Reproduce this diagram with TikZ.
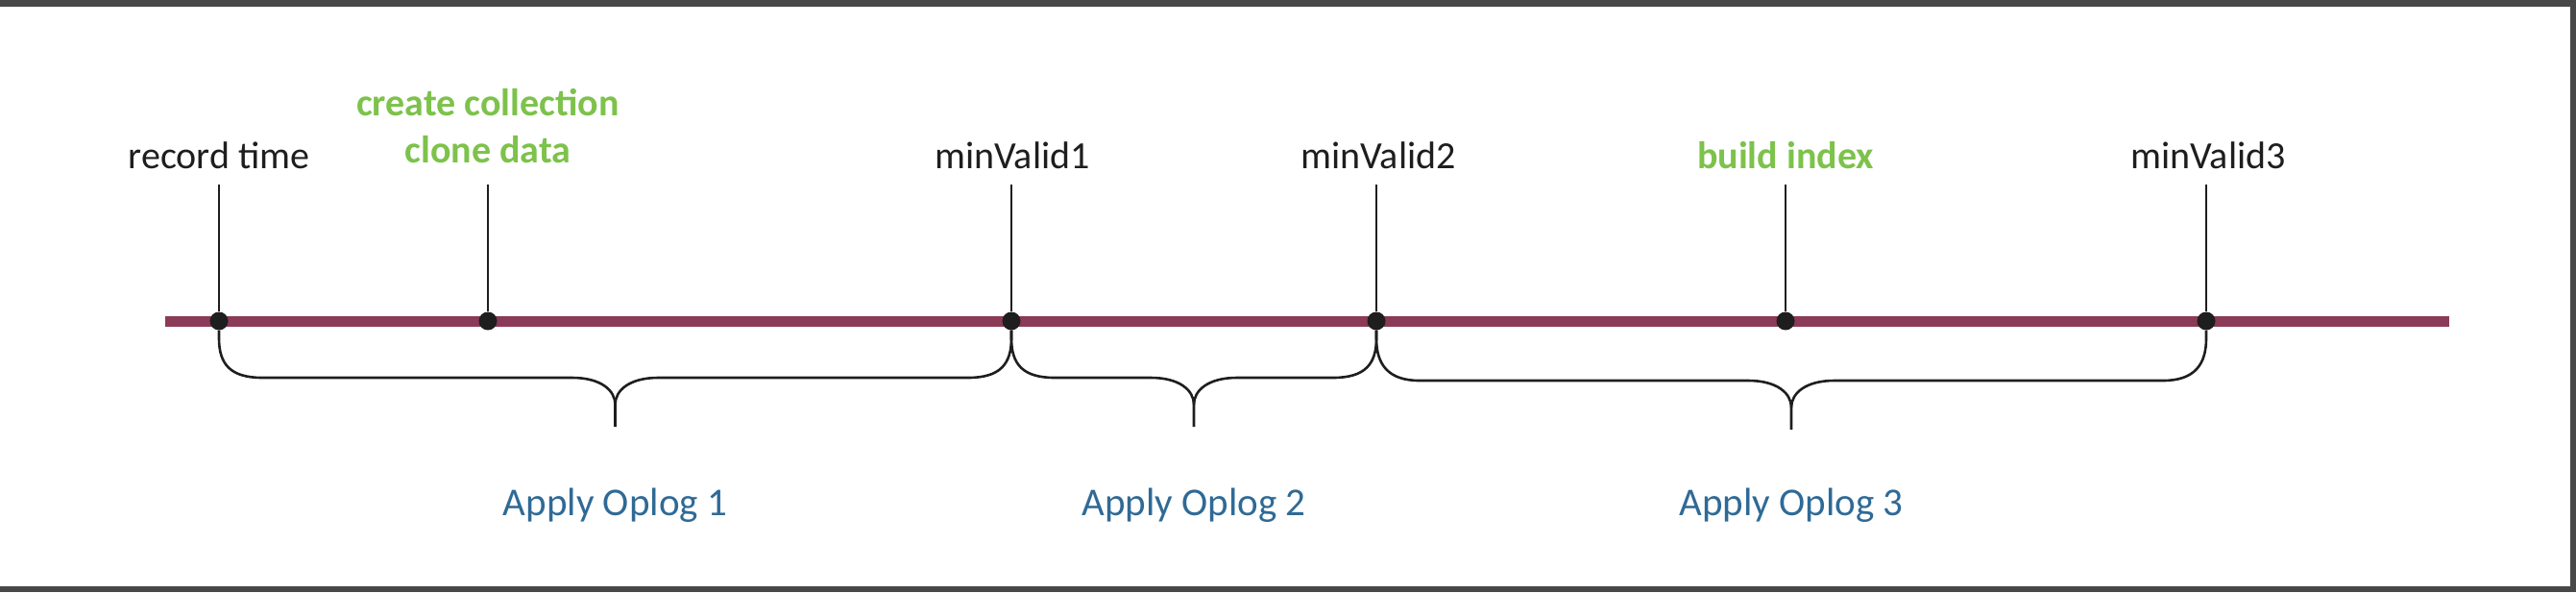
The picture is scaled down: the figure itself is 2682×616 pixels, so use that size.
\documentclass[tikz,border=0pt]{standalone}
\usepackage{fontspec}
\setmainfont{Carlito}
\usetikzlibrary{calc}
\definecolor{barc}{HTML}{8B3A58}
\definecolor{greenc}{HTML}{7DC24B}
\definecolor{bluec}{HTML}{2F6A96}
\definecolor{framec}{HTML}{484848}
\definecolor{inkc}{HTML}{1E1E1E}
\tikzset{
  dot/.style={circle, fill=inkc, inner sep=0pt, minimum size=19pt},
  stem/.style={draw=inkc, line width=2pt},
  bracestyle/.style={draw=inkc, line width=2.6pt},
  lbl/.style={anchor=base, inner sep=0pt, text=inkc, font=\fontsize{40}{48}\selectfont},
  glbl/.style={anchor=base, inner sep=0pt, text=greenc, font=\fontsize{40}{48}\selectfont\bfseries},
  alb/.style={anchor=base, inner sep=0pt, text=bluec, font=\fontsize{41}{48}\selectfont},
}
\newcommand\obrace[4]{%
  \coordinate (#3) at ($(#1)!0.5!(#2)$);
  \draw[bracestyle] (#1) -- ($(#1)+(0,18)$) .. controls ($(#1)+(0,45)$) and ($(#1)+(12,#4)$) .. ($(#1)+(45,#4)$)
     -- ($(#3)+(-45,#4)$) .. controls ($(#3)+(-15,#4)$) and ($(#3)+(0,#4+13)$) .. ($(#3)+(0,#4+28)$)
     -- ($(#3)+(0,#4+51)$);
  \draw[bracestyle] ($(#3)+(0,#4+28)$) .. controls ($(#3)+(0,#4+13)$) and ($(#3)+(15,#4)$) .. ($(#3)+(45,#4)$)
     -- ($(#2)+(-45,#4)$) .. controls ($(#2)+(-12,#4)$) and ($(#2)+(0,45)$) .. ($(#2)+(0,18)$) -- (#2);
}
\begin{document}
\begin{tikzpicture}[x=1pt,y=-1pt]
\useasboundingbox (0,0) rectangle (2682,616);
% frame
\fill[framec] (0,0) rectangle (2682,7);
\fill[framec] (2676,0) rectangle (2682,616);
\fill[framec] (0,610) rectangle (2682,616);
% timeline
\coordinate (bl) at (172,334);
\coordinate (br) at (2550,334);
\draw[barc, line width=11pt] (bl) -- (br);
% stems tops
\coordinate (t1) at (228,192);
\coordinate (t2) at (508,192);
\coordinate (t3) at (1053,192);
\coordinate (t4) at (1433,192);
\coordinate (t5) at (1859,192);
\coordinate (t6) at (2297,192);
% dots
\node[dot] (d1) at (228,334) {};
\node[dot] (d2) at (508,334) {};
\node[dot] (d3) at (1053,334) {};
\node[dot] (d4) at (1433,334) {};
\node[dot] (d5) at (1859,334) {};
\node[dot] (d6) at (2297,334) {};
\draw[stem] (t1) -- (d1);
\draw[stem] (t2) -- (d2);
\draw[stem] (t3) -- (d3);
\draw[stem] (t4) -- (d4);
\draw[stem] (t5) -- (d5);
\draw[stem] (t6) -- (d6);
% labels
\node[lbl] (l1) at (228,175) {record time};
\node[glbl] (l2a) at (508,120) {create collection};
\node[glbl] (l2b) at (508,169) {clone data};
\node[lbl] (l3) at (1054,175) {minValid1};
\node[lbl] (l4) at (1435,175) {minValid2};
\node[glbl] (l5) at (1859,175) {build index};
\node[lbl] (l6) at (2299,175) {minValid3};
% braces
\obrace{d1}{d3}{m1}{59}
\obrace{d3}{d4}{m2}{59}
\obrace{d4}{d6}{m3}{62}
% apply labels
\node[alb] (a1) at ($(m1)+(0,202)$) {Apply Oplog 1};
\node[alb] (a2) at ($(m2)+(0,202)$) {Apply Oplog 2};
\node[alb] (a3) at ($(m3)+(0,202)$) {Apply Oplog 3};
\end{tikzpicture}
\end{document}
